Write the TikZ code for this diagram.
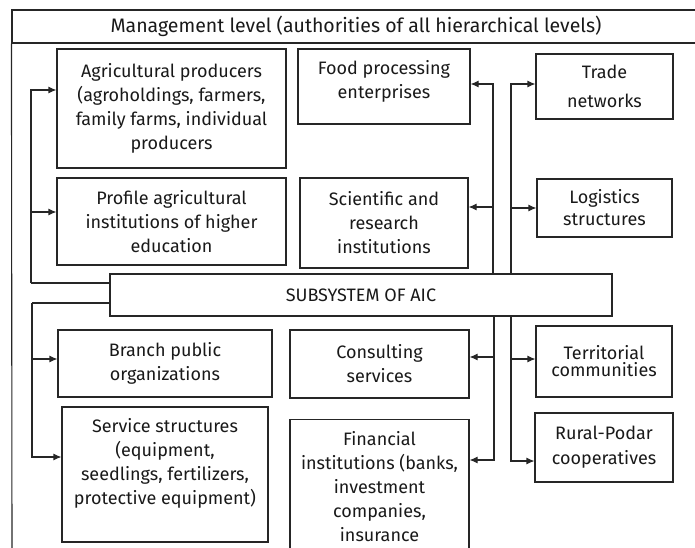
\documentclass[tikz,border=0pt]{standalone}
\usepackage{fontspec}
\setmainfont{Fira Sans}
\usepackage{tikz}
\usetikzlibrary{arrows.meta}

\begin{document}
\begin{tikzpicture}[->, >={Latex[length=8pt,width=7pt]}, x=1pt, y=-1pt, line width=1.1pt, draw=black!85,
	every node/.style={font=\fontsize{18}{24}\selectfont, align=center, text=black!90},
	block/.style={draw, -, inner sep=0pt}]
		\useasboundingbox (0,0) rectangle (695,547);
		
		\node[block, minimum width=688pt, minimum height=33pt, font=\fontsize{19.5}{22}\selectfont]	(mgmt) at (356,26.5) {Management level (authorities of all hierarchical levels)};
		\coordinate (frame) at (12,550);
		\draw[-] (mgmt.south west) -- (frame);
		
		\node[block, minimum width=229pt, minimum height=119pt]	(agri) at (171.5,108.5) {Agricultural producers\\(agroholdings, farmers,\\family farms, individual\\producers};
		\node[block, minimum width=229pt, minimum height=87pt]	(profile) at (171.5,221.5) {Profile agricultural\\institutions of higher\\education};
		\node[block, minimum width=172pt, minimum height=75pt, text depth=15pt]	(food) at (384,86.5) {Food processing\\enterprises};
		\node[block, minimum width=168pt, minimum height=90pt]	(sci) at (384,223) {Scientific and\\research\\institutions};
		\node[block, minimum width=137pt, minimum height=65pt, font=\fontsize{18}{29}\selectfont]	(trade) at (604.5,86.5) {Trade\\networks};
		\node[block, minimum width=135pt, minimum height=58pt, font=\fontsize{18}{22}\selectfont]	(logis) at (604.5,208) {Logistics\\structures};
		
		\node[block, minimum width=502pt, minimum height=42pt]	(subsys) at (361,295) {SUBSYSTEM OF AIC};
		
		\node[block, minimum width=214pt, minimum height=67pt]	(branch) at (165,363.5) {Branch public\\organizations};
		\node[block, minimum width=206pt, minimum height=135pt, text depth=27pt]	(service) at (165,474.5) {Service structures\\(equipment,\\seedlings, fertilizers,\\protective equipment)};
		\node[block, minimum width=179pt, minimum height=68pt]	(consult) at (379.5,364) {Consulting\\services};
		\node[block, minimum width=179pt, inner ysep=12pt, anchor=north]	(fin) at (379.5,419) {Financial\\institutions (banks,\\investment\\companies,\\insurance};
		\node[block, minimum width=136pt, minimum height=71pt, font=\fontsize{18}{17}\selectfont]	(territ) at (604,361.5) {Territorial\\communities};
		\node[block, minimum width=138pt, minimum height=69pt, font=\fontsize{18}{25}\selectfont]	(rural) at (604,447.5) {Rural-Podar\\cooperatives};
		
		% left side
		\coordinate (ul) at (31,283);
		\coordinate (ll) at (32,303);
		\draw[-] ([yshift=12pt]subsys.west) -- (ul);
		\draw (ul) |- ([yshift=18.5pt]agri.west);
		\draw (ul) |- ([yshift=9.5pt]profile.west);
		\draw[-] ([yshift=-8pt]subsys.west) -- (ll);
		\draw (ll) |- ([yshift=4.5pt]branch.west);
		\draw (ll) |- ([yshift=17.5pt]service.west);
		
		% right side
		\draw ([xshift=132pt]subsys.north) |- ([yshift=2.5pt]food.east);
		\draw ([xshift=132pt]subsys.north) |- ([yshift=16pt]sci.east);
		\draw ([xshift=150pt]subsys.north) |- ([yshift=2.5pt]trade.west);
		\draw ([xshift=150pt]subsys.north) |- (logis.west);
		\draw ([xshift=133pt]subsys.south) |- ([yshift=7pt]consult.east);
		\draw ([xshift=133pt]subsys.south) |- (fin.east |- 0,460);
		\draw ([xshift=150pt]subsys.south) |- ([yshift=2.5pt]territ.west);
		\draw ([xshift=150pt]subsys.south) |- ([yshift=-13.5pt]rural.west);
	\end{tikzpicture}
\end{document}
